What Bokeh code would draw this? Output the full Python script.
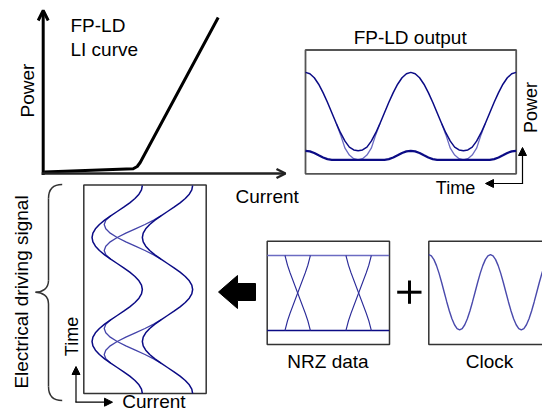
import numpy as np
from bokeh.plotting import figure
from bokeh.models import Range1d, Arrow, OpenHead, NormalHead
from bokeh.core.properties import value
from bokeh.embed import file_html
from bokeh.resources import INLINE

# ---------------- data ----------------
# one clock period, sampled every 15 degrees (normalised, max = 1)
clock_period = [1.0, 0.966, 0.866, 0.707, 0.5, 0.259, 0.0, -0.259, -0.5, -0.707, -0.866, -0.966,
                -1.0, -0.966, -0.866, -0.707, -0.5, -0.259, 0.0, 0.259, 0.5, 0.707, 0.866, 0.966]
clock_amp = 0.5                      # clock amplitude relative to one NRZ step
nrz_levels = [0.0, 1.0]              # NRZ low / high
edge_drive = [0.0, 0.024, 0.095, 0.206, 0.345, 0.5, 0.655, 0.794, 0.905, 0.976, 1.0]
edge_nrz = [0.0, 0.13, 0.23, 0.32, 0.41, 0.5, 0.59, 0.68, 0.77, 0.87, 1.0]
edge_starts = [7, 31]                # sample index where each data transition starts
# FP-LD transfer: drive current -> optical power (output panel units)
drive_level = [-1.0, 0.0, 0.15, 0.3, 0.4, 0.45, 0.5, 0.55, 0.6, 0.7, 1.6]
output_power = [0.0, 0.0, 0.8, 3.0, 5.8, 7.4, 9.0, 11.5, 15.0, 22.8, 95.5]
# LI curve (schematic)
li_current = [1, 90, 94, 97, 175]
li_power = [1.5, 4.7, 7.0, 11.0, 156.0]

# ---------------- layout ----------------
W, H = 542, 412
def fy(Y):
    return H - np.asarray(Y, dtype=float)

TB = 6.0   # text baseline correction (px)
FONT = value("Liberation Sans")
DARK = "#0b0b85"
LIGHT = "#6b6bc2"
MID = "#4444aa"

p = figure(width=W, height=H, x_range=Range1d(0, W), y_range=Range1d(0, H),
           output_backend="svg", toolbar_location=None, min_border=0,
           x_axis_location=None, y_axis_location=None)
p.grid.visible = False
p.outline_line_color = None
p.background_fill_color = "white"
p.border_fill_color = "white"

idx = np.arange(49)
clock = np.array(list(clock_period) * 2 + [clock_period[0]])
lo, hi = nrz_levels
steady_low = lo + clock_amp * clock
steady_high = hi + clock_amp * clock

def edges(shape):
    out = []
    for s in edge_starts:
        seg = idx[s:s + len(shape)]
        sh = np.array(shape)
        rise = lo + (hi - lo) * sh
        fall = hi - (hi - lo) * sh
        out.append((seg, rise, fall))
    return out

# ---------------- LI curve panel ----------------
li_x0, li_y0 = 42.7, 173.0
p.line(li_x0 + np.array(li_current), fy(li_y0 - np.array(li_power)),
       line_color="black", line_width=3, line_join="round")
p.add_layout(Arrow(end=OpenHead(size=10, line_width=3, line_color="black"),
                   x_start=li_x0, y_start=float(fy(174.5)), x_end=li_x0, y_end=float(fy(10)),
                   line_width=3, line_color="black"))
p.add_layout(Arrow(end=OpenHead(size=9, line_width=2.5, line_color="#222222"),
                   x_start=41.2, y_start=float(fy(173)), x_end=285, y_end=float(fy(173)),
                   line_width=2.5, line_color="#222222"))

# ---------------- FP-LD output panel ----------------
ox0, ox_step, oy_floor = 305.0, 210.6 / 48, 159.3
p.quad(left=[305], right=[515.7], top=[float(fy(49.5))], bottom=[float(fy(173.3))],
       fill_color=None, line_color="#555555", line_width=1.8)
ox = ox0 + ox_step * idx
for seg, rise, fall in edges(edge_drive):
    for d in (rise, fall):
        P = np.interp(d + clock_amp * clock[seg], drive_level, output_power)
        p.line(ox[seg], fy(oy_floor - P), line_color=LIGHT, line_width=1.3)
P_hi = np.interp(steady_high, drive_level, output_power)
P_lo = np.interp(steady_low, drive_level, output_power)
p.line(ox, fy(oy_floor - P_hi), line_color=DARK, line_width=1.5)
p.line(ox, fy(oy_floor - P_lo), line_color=DARK, line_width=2.2)
p.add_layout(Arrow(end=NormalHead(size=8, fill_color="black", line_color="black"),
                   x_start=522, y_start=float(fy(183)), x_end=522, y_end=float(fy(147)),
                   line_width=1.2, line_color="black"))
p.add_layout(Arrow(end=NormalHead(size=8, fill_color="black", line_color="black"),
                   x_start=522.6, y_start=float(fy(183)), x_end=485, y_end=float(fy(183)),
                   line_width=1.2, line_color="black"))

# ---------------- Electrical driving signal panel ----------------
ex0, ex_scale, ey0, ey_step = 116.7, 50.3, 185.0, 208.0 / 48
p.quad(left=[83.3], right=[205.7], top=[float(fy(184.5))], bottom=[float(fy(393))],
       fill_color=None, line_color="#333333", line_width=1.5)
ey = ey0 + ey_step * idx
for seg, rise, fall in edges(edge_drive):
    for d in (rise, fall):
        p.line(ex0 + ex_scale * (d + clock_amp * clock[seg]), fy(ey[seg]),
               line_color=MID, line_width=1.3)
for I in (steady_low, steady_high):
    p.line(ex0 + ex_scale * I, fy(ey), line_color=DARK, line_width=1.5)
p.add_layout(Arrow(end=NormalHead(size=8, fill_color="black", line_color="black"),
                   x_start=75.5, y_start=float(fy(401.7)), x_end=75.5, y_end=float(fy(366)),
                   line_width=1.2, line_color="black"))
p.add_layout(Arrow(end=NormalHead(size=8, fill_color="black", line_color="black"),
                   x_start=74.9, y_start=float(fy(401.7)), x_end=112, y_end=float(fy(401.7)),
                   line_width=1.2, line_color="black"))

# brace
bc = "#333333"
p.bezier(x0=[61.7, 48, 35, 48], y0=fy([184, 280, 291.7, 386]),
         x1=[48, 35, 48, 61.7], y1=fy([198, 291.7, 303.4, 400]),
         cx0=[52, 48, 42, 48], cy0=fy([184, 288, 291.7, 394]),
         cx1=[48, 42, 48, 52], cy1=fy([190, 291.7, 295.5, 400]),
         line_color=bc, line_width=1.5)
p.segment(x0=[48, 48], y0=fy([198, 303.4]), x1=[48, 48], y1=fy([280, 386]),
          line_color=bc, line_width=1.5)

# big arrow
p.patch(x=[218, 237, 237, 255, 255, 237, 237],
        y=fy([291.5, 275, 283, 283, 300, 300, 308]),
        fill_color="black", line_color="black", line_width=1)

# ---------------- NRZ data panel ----------------
nx0, nx_step, ny_lo, ny_step = 266.7, 2.54, 330.0, 75.0
p.quad(left=[266.7], right=[389], top=[float(fy(240.7))], bottom=[float(fy(344))],
       fill_color=None, line_color="#333333", line_width=1.5)
nx = nx0 + nx_step * idx
p.line(nx, fy(ny_lo - ny_step * np.full(49, hi)), line_color=LIGHT, line_width=1.4)
p.line(nx, fy(ny_lo - ny_step * np.full(49, lo)), line_color=DARK, line_width=1.4)
for seg, rise, fall in edges(edge_nrz):
    for d in (rise, fall):
        p.line(nx[seg], fy(ny_lo - ny_step * d), line_color="#2a2a98", line_width=1.1)

# plus sign
p.segment(x0=[396.7, 409], y0=fy([291.7, 280]), x1=[421, 409], y1=fy([291.7, 303.3]),
          line_color="black", line_width=3)

# ---------------- Clock panel ----------------
cx0, cx_step, cy_mid, cy_amp = 428.3, 2.57, 291.7, 37.6
p.quad(left=[428.3], right=[551], top=[float(fy(240.7))], bottom=[float(fy(344))],
       fill_color=None, line_color="#333333", line_width=1.5)
p.line(cx0 + cx_step * idx, fy(cy_mid - cy_amp * clock), line_color="#4a4aac", line_width=1.4)

# ---------------- texts ----------------
def htext(x, Y, txt, size, align):
    p.text(x=x, y=fy(np.array(Y) - TB), text=txt, text_font=FONT, text_font_size=size,
           text_align=align, text_baseline="alphabetic", text_color="black")

def vtext(X, y, txt, size):
    p.text(x=np.array(X) - TB, y=fy(y), text=txt, text_font=FONT, text_font_size=size,
           text_align="center", text_baseline="alphabetic", angle=np.pi / 2,
           text_color="black")

htext([70, 70], [31, 55], ["FP-LD", "LI curve"], "19px", "left")
htext([235], [202], ["Current"], "19px", "left")
htext([409.7], [43], ["FP-LD output"], "19px", "center")
htext([455], [193], ["Time"], "18px", "center")
htext([327.5, 489], [367, 367], ["NRZ data", "Clock"], "19px", "center")
htext([121.7], [406.5], ["Current"], "19px", "left")

vtext([33], [90], ["Power"], "19px")
vtext([536.5], [107], ["Power"], "18px")
vtext([27], [291.5], ["Electrical driving signal"], "19px")
vtext([77.3], [336], ["Time"], "18px")

open("out.html", "w").write(file_html(p, INLINE))
